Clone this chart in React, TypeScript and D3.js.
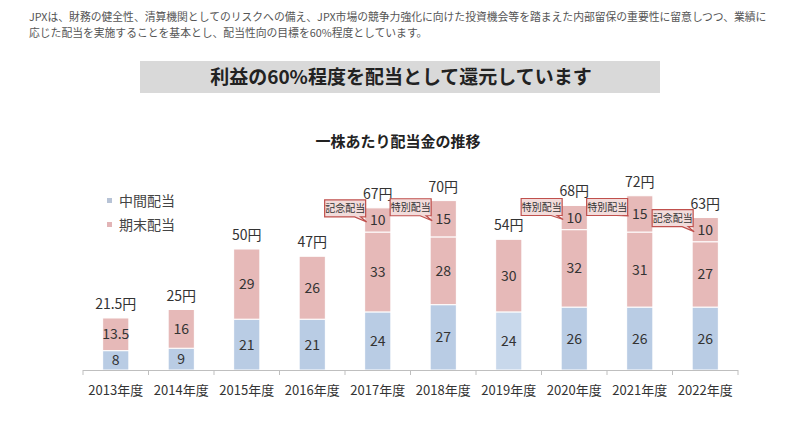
import React from 'react';
import * as d3 from 'd3';

const years = ['2013年度', '2014年度', '2015年度', '2016年度', '2017年度', '2018年度', '2019年度', '2020年度', '2021年度', '2022年度'];
const interim = [8, 9, 21, 21, 24, 27, 24, 26, 26, 26];
const yearEnd = [13.5, 16, 29, 26, 33, 28, 30, 32, 31, 27];
const special = [0, 0, 0, 0, 10, 15, 0, 10, 15, 10];
const specialKind = ['', '', '', '', '記念配当', '特別配当', '', '特別配当', '特別配当', '記念配当'];
const legendLabels = ['中間配当', '期末配当'];

const introLines = [
  'JPXは、財務の健全性、清算機関としてのリスクへの備え、JPX市場の競争力強化に向けた投資機会等を踏まえた内部留保の重要性に留意しつつ、業績に',
  '応じた配当を実施することを基本とし、配当性向の目標を60%程度としています。',
];
const banner = '利益の60%程度を配当として還元しています';
const title = '一株あたり配当金の推移';

const FONT = '"Noto Sans CJK JP", "Noto Sans", sans-serif';
const BLUE = '#b9cce4';
const BLUE_LIGHT = '#c8d8eb';
const PINK = '#e6b9b8';

export default function App() {
  const x = d3.scaleBand<string>().domain(years).range([83, 738]).padding(0);
  const y = d3.scaleLinear().domain([0, 75]).range([370, 370 - 75 * 2.42]);
  const bw = x.bandwidth() * 0.4;

  return (
    <svg width={800} height={426} style={{ position: 'absolute', left: 0, top: 0, background: '#fff' }} fontFamily={FONT}>
      {introLines.map((t, i) => (
        <text key={i} x={29} y={21 + i * 16} fontSize={10.8} fill="#555">{t}</text>
      ))}

      <rect x={140} y={61} width={520} height={32} fill="#d9d9d9" />
      <text x={401} y={84} textAnchor="middle" fontSize={19} fontWeight="bold" fill="#222">{banner}</text>

      <text x={398} y={147} textAnchor="middle" fontSize={15} fontWeight="bold" fill="#222">{title}</text>

      {legendLabels.map((l, i) => (
        <g key={l}>
          <rect x={107} y={198 + i * 24} width={5} height={5} fill={i === 0 ? '#b7c3d6' : '#e2b4b6'} />
          <text x={119} y={206 + i * 24} fontSize={14} fill="#444">{l}</text>
        </g>
      ))}

      {years.map((yr, i) => {
        const bx = x(yr)! + (x.bandwidth() - bw) / 2;
        const cx = x(yr)! + x.bandwidth() / 2;
        const segs = [
          { v0: 0, v1: interim[i], c: i === 6 ? BLUE_LIGHT : BLUE },
          { v0: interim[i], v1: interim[i] + yearEnd[i], c: PINK },
          { v0: interim[i] + yearEnd[i], v1: interim[i] + yearEnd[i] + special[i], c: PINK },
        ];
        const total = interim[i] + yearEnd[i] + special[i];
        return (
          <g key={yr}>
            {segs.filter(s => s.v1 > s.v0).map((s, k) => (
              <g key={k}>
                <rect x={bx} y={y(s.v1)} width={bw} height={y(s.v0) - y(s.v1)} fill={s.c} stroke="#fff" strokeWidth={1} />
                <text x={cx} y={(y(s.v0) + y(s.v1)) / 2 + 5} textAnchor="middle" fontSize={14} fill="#333">{s.v1 - s.v0}</text>
              </g>
            ))}
            <text x={cx} y={y(total) - 9} textAnchor="middle" fontSize={14} fill="#333">{total}円</text>
          </g>
        );
      })}

      {years.map((yr, i) => {
        if (!specialKind[i]) return null;
        const bx = x(yr)! + (x.bandwidth() - bw) / 2;
        const mid = y(interim[i] + yearEnd[i] + special[i] / 2);
        const right = bx + 1;
        const left = right - 41;
        // keep the callout clear of the neighbouring total label
        const top = Math.max(mid - 20, 198.5);
        const bottom = top + 17;
        const path = `M${left},${top}H${right}V${bottom}H${right - 5}L${bx + 2},${mid + 2}L${right - 11},${bottom}H${left}Z`;
        return (
          <g key={'c' + yr}>
            <path d={path} fill="#f2dcdb" stroke="#c0504d" strokeWidth={1.2} />
            <text x={(left + right) / 2} y={top + 12} textAnchor="middle" fontSize={10} fill="#333">{specialKind[i]}</text>
          </g>
        );
      })}

      <line x1={83} x2={738} y1={370.5} y2={370.5} stroke="#bfbfbf" />
      {[...years.map(yr => x(yr)!), 738].map((t, i) => (
        <line key={i} x1={t} x2={t} y1={370} y2={375} stroke="#bfbfbf" />
      ))}
      {years.map(yr => (
        <text key={yr} x={x(yr)! + x.bandwidth() / 2} y={395} textAnchor="middle" fontSize={13} fill="#333">{yr}</text>
      ))}
    </svg>
  );
}
